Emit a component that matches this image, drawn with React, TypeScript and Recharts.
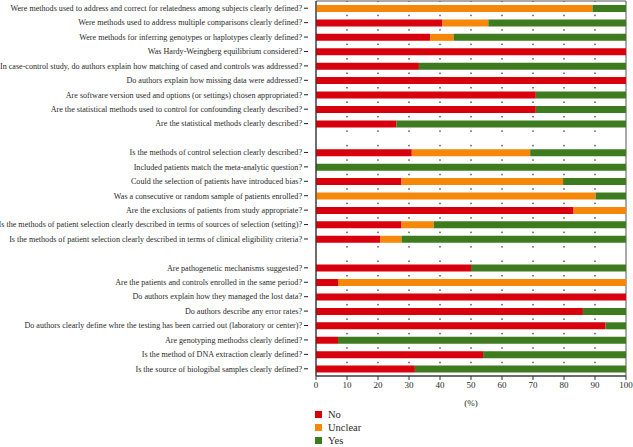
import React from 'react';
import { BarChart, Bar, XAxis, YAxis, CartesianGrid, Legend, ReferenceArea } from 'recharts';

const questions = [
  'Were methods used to address and correct for relatedness among subjects clearly defined?',
  'Were methods used to address multiple comparisons clearly defined?',
  'Were methods for inferring genotypes or haplotypes clearly defined?',
  'Was Hardy-Weingberg equilibrium considered?',
  'In case-control study, do authors explain how matching of cased and controls was addressed?',
  'Do authors explain how missing data were addressed?',
  'Are software version used and options (or settings) chosen appropriated?',
  'Are the statistical methods used to control for confounding clearly described?',
  'Are the statistical methods clearly described?',
  '',
  'Is the methods of control selection clearly described?',
  'Included patients match the meta-analytic question?',
  'Could the selection of patients have introduced bias?',
  'Was a consecutive or random sample of patients enrolled?',
  'Are the exclusions of patients from study appropriate?',
  'Is the methods of patient selection clearly described in terms of sources of selection (setting)?',
  'Is the methods of patient selection clearly described in terms of clinical eligibility criteria?',
  '',
  'Are pathogenetic mechanisms suggested?',
  'Are the patients and controls enrolled in the same period?',
  'Do authors explain how they managed the lost data?',
  'Do authors describe any error rates?',
  'Do authors clearly define whre the testing has been carried out (laboratory or center)?',
  'Are genotyping methodss clearly defined?',
  'Is the method of DNA extraction clearly defined?',
  'Is the source of biologibal samples clearly defined?',
];

const noValues = [0, 40.8, 36.8, 100, 33.2, 100, 70.9, 70.9, 25.9, null, 30.9, 0, 27.6, 0, 83.1, 27.6, 20.8, null, 50, 7.1, 100, 86.1, 93.4, 7.1, 53.9, 31.9];
const unclearValues = [89.2, 14.8, 7.6, 0, 0, 0, 0, 0, 0, null, 38.2, 0, 52.1, 90.2, 16.9, 10.4, 6.8, null, 0, 92.9, 0, 0, 0, 0, 0, 0];
const yesValues = [10.8, 44.4, 55.6, 0, 66.8, 0, 29.1, 29.1, 74.1, null, 30.9, 100, 20.3, 9.8, 0, 62.0, 72.4, null, 50, 0, 0, 13.9, 6.6, 92.9, 46.1, 68.1];

const xTicks = [0, 10, 20, 30, 40, 50, 60, 70, 80, 90, 100];

const legendItems = [
  { name: 'No', color: '#d9000d' },
  { name: 'Unclear', color: '#f5880a' },
  { name: 'Yes', color: '#3e7a1e' },
];

const data = questions.map((q, i) => ({
  q,
  no: noValues[i],
  unclear: unclearValues[i],
  yes: yesValues[i],
}));

const font = '"Liberation Serif", "DejaVu Serif", serif';

const QuestionTick = (props: any) => {
  const { x, y, payload } = props;
  if (!payload.value) return null;
  return (
    <g>
      <line x1={x - 4} x2={x} y1={y} y2={y} stroke="#222" strokeWidth={1} />
      <text x={x - 6} y={y} dy={2.8} textAnchor="end" fontSize={8.1} fill="#2a2a2a" fontFamily={font}>
        {payload.value}
      </text>
    </g>
  );
};

const renderLegend = () => (
  <div style={{ fontFamily: font, fontSize: 10.5, color: '#2a2a2a' }}>
    {legendItems.map((it) => (
      <div key={it.name} style={{ display: 'flex', alignItems: 'center', height: 13 }}>
        <span style={{ width: 7, height: 7, background: it.color, display: 'inline-block', marginRight: 6 }} />
        {it.name}
      </div>
    ))}
  </div>
);

export default function App() {
  return (
    <div style={{ position: 'absolute', left: 0, top: 0, background: '#fff' }}>
      <BarChart
        width={633}
        height={447}
        data={data}
        layout="vertical"
        barSize={7}
        margin={{ top: 1, right: 7, bottom: 0, left: 0 }}
      >
        <CartesianGrid
          horizontal={false}
          vertical
          stroke="#000"
          strokeDasharray="1.5 12.96"
          strokeDashoffset={0.75}
          verticalValues={[10, 20, 30, 40, 50, 60, 70, 80, 90]}
        />
        <XAxis
          type="number"
          domain={[0, 100]}
          ticks={xTicks}
          interval={0}
          tickSize={4}
          stroke="#333"
          tick={{ fontSize: 9, fill: '#2a2a2a', fontFamily: font }}
          height={32}
          label={{ value: '(%)', position: 'insideBottom', offset: 2, fontSize: 9, fill: '#2a2a2a', fontFamily: font }}
        />
        <YAxis
          type="category"
          dataKey="q"
          width={316}
          interval={0}
          tickLine={false}
          stroke="#333"
          tick={<QuestionTick />}
        />
        <ReferenceArea x1={0} x2={100} fill="none" stroke="#555" strokeWidth={1} />
        <Bar dataKey="no" stackId="a" fill="#d9000d" isAnimationActive={false} />
        <Bar dataKey="unclear" stackId="a" fill="#f5880a" isAnimationActive={false} />
        <Bar dataKey="yes" stackId="a" fill="#3e7a1e" isAnimationActive={false} />
        <Legend
          layout="vertical"
          verticalAlign="bottom"
          align="center"
          content={renderLegend}
          wrapperStyle={{ left: 315, bottom: 0, width: 'auto', height: 39 }}
        />
      </BarChart>
    </div>
  );
}
